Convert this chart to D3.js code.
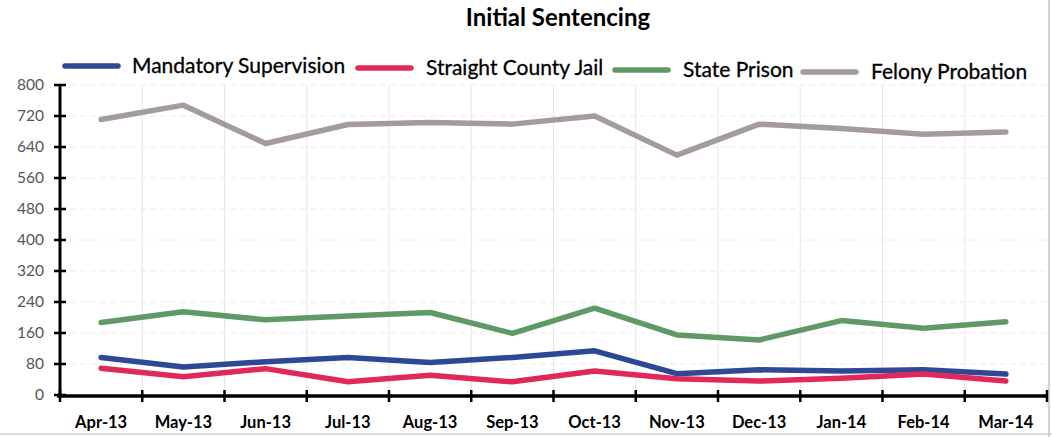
<!DOCTYPE html>
<html>
<head>
<meta charset="utf-8">
<script src="https://cdn.jsdelivr.net/npm/d3@7"></script>
<style>
  html, body { margin: 0; padding: 0; background: #fff; }
  svg { display: block; }
  text { font-family: Lato, "Open Sans", sans-serif; }
</style>
</head>
<body>
<svg id="chart" width="1052" height="437"></svg>
<script>
const months = ["Apr-13","May-13","Jun-13","Jul-13","Aug-13","Sep-13","Oct-13","Nov-13","Dec-13","Jan-14","Feb-14","Mar-14"];
const seriesNames = ["Mandatory Supervision","Straight County Jail","State Prison","Felony Probation"];
const mandatorySupervision = [97, 72, 86, 97, 84, 97, 114, 55, 65, 62, 65, 54];
const straightCountyJail   = [69, 47, 68, 34, 51, 34, 62, 42, 36, 43, 54, 36];
const statePrison          = [187, 215, 194, 204, 213, 159, 224, 155, 142, 192, 172, 189];
const felonyProbation      = [711, 748, 649, 698, 703, 699, 720, 619, 699, 688, 673, 679];
const yTicks = [0, 80, 160, 240, 320, 400, 480, 560, 640, 720, 800];
const colors = ["#2c4896", "#e2285a", "#5f9a66", "#a39ba0"];
const titleText = "Initial Sentencing";

const seriesValues = [mandatorySupervision, straightCountyJail, statePrison, felonyProbation];

const svg = d3.select("#chart");
const pLeft = 60, pRight = 1047, pTop = 85, pBottom = 395;

const x = d3.scaleBand().domain(months).range([pLeft, pRight]).paddingInner(0).paddingOuter(0);
const y = d3.scaleLinear().domain([0, 800]).range([pBottom, pTop]);

// border
svg.append("line").attr("x1", 1049).attr("x2", 1049).attr("y1", 0).attr("y2", 437)
  .attr("stroke", "#c4c4c4").attr("stroke-width", 1.5);
svg.append("line").attr("x1", 0).attr("x2", 1052).attr("y1", 434).attr("y2", 434)
  .attr("stroke", "#cfcfcf").attr("stroke-width", 1.5);

// gridlines
const grid = svg.append("g");
grid.selectAll("line.h").data(yTicks.slice(1)).join("line")
  .attr("x1", pLeft).attr("x2", pRight)
  .attr("y1", d => y(d)).attr("y2", d => y(d))
  .attr("stroke", "#ececec").attr("stroke-width", 1).attr("stroke-dasharray", "6,4");
grid.selectAll("line.v").data(months.slice(1)).join("line")
  .attr("x1", d => x(d)).attr("x2", d => x(d))
  .attr("y1", pTop).attr("y2", pBottom)
  .attr("stroke", "#e6e6e6").attr("stroke-width", 1);

// title
svg.append("text").attr("x", 558).attr("y", 26).attr("text-anchor", "middle")
  .attr("font-size", 24).attr("font-weight", "bold").attr("fill", "#000")
  .text(titleText);

// legend
const legendPos = [
  {sx: 65, tx: 132, y: 66},
  {sx: 358, tx: 426, y: 68},
  {sx: 615, tx: 683, y: 70},
  {sx: 803, tx: 871, y: 72}
];
const legend = svg.append("g");
seriesNames.forEach((name, i) => {
  const p = legendPos[i];
  legend.append("line").attr("x1", p.sx).attr("x2", p.sx + 53)
    .attr("y1", p.y).attr("y2", p.y)
    .attr("stroke", colors[i]).attr("stroke-width", 5.5).attr("stroke-linecap", "round");
  legend.append("text").attr("x", p.tx).attr("y", p.y).attr("dy", "0.35em")
    .attr("font-size", 21).attr("fill", "#000").attr("stroke", "#000").attr("stroke-width", 0.3)
    .text(name);
});

// lines
const line = d3.line()
  .x((d, i) => x(months[i]) + x.bandwidth() / 2)
  .y(d => y(d));
svg.append("g").selectAll("path").data(seriesValues).join("path")
  .attr("d", d => line(d))
  .attr("fill", "none")
  .attr("stroke", (d, i) => colors[i])
  .attr("stroke-width", 5.5)
  .attr("stroke-linejoin", "round")
  .attr("stroke-linecap", "round");

// y axis
const yAxis = d3.axisLeft(y).tickValues(yTicks).tickSize(0).tickPadding(16);
const yg = svg.append("g").attr("transform", `translate(${pLeft},0)`).call(yAxis);
yg.select(".domain").remove();
yg.selectAll("text").attr("font-size", 15.5).attr("fill", "#555");
svg.append("line").attr("x1", pLeft).attr("x2", pLeft).attr("y1", pTop).attr("y2", pBottom + 1)
  .attr("stroke", "#000").attr("stroke-width", 3);
svg.append("g").selectAll("line").data(yTicks).join("line")
  .attr("x1", pLeft - 6).attr("x2", pLeft + 6)
  .attr("y1", d => y(d)).attr("y2", d => y(d))
  .attr("stroke", "#000").attr("stroke-width", 2.5);

// x axis
const xAxis = d3.axisBottom(x).tickSize(0).tickPadding(20);
const xg = svg.append("g").attr("transform", `translate(0,${pBottom + 1})`).call(xAxis);
xg.select(".domain").remove();
xg.selectAll("text").attr("font-size", 16.5).attr("font-weight", "bold").attr("fill", "#000");
svg.append("line").attr("x1", pLeft - 3).attr("x2", pRight).attr("y1", pBottom + 1).attr("y2", pBottom + 1)
  .attr("stroke", "#000").attr("stroke-width", 3.5);
const boundaries = months.map(m => x(m)).concat([pRight]);
svg.append("g").selectAll("line").data(boundaries).join("line")
  .attr("x1", d => d).attr("x2", d => d)
  .attr("y1", pBottom - 5).attr("y2", pBottom + 7)
  .attr("stroke", "#000").attr("stroke-width", 2.5);
</script>
</body>
</html>
